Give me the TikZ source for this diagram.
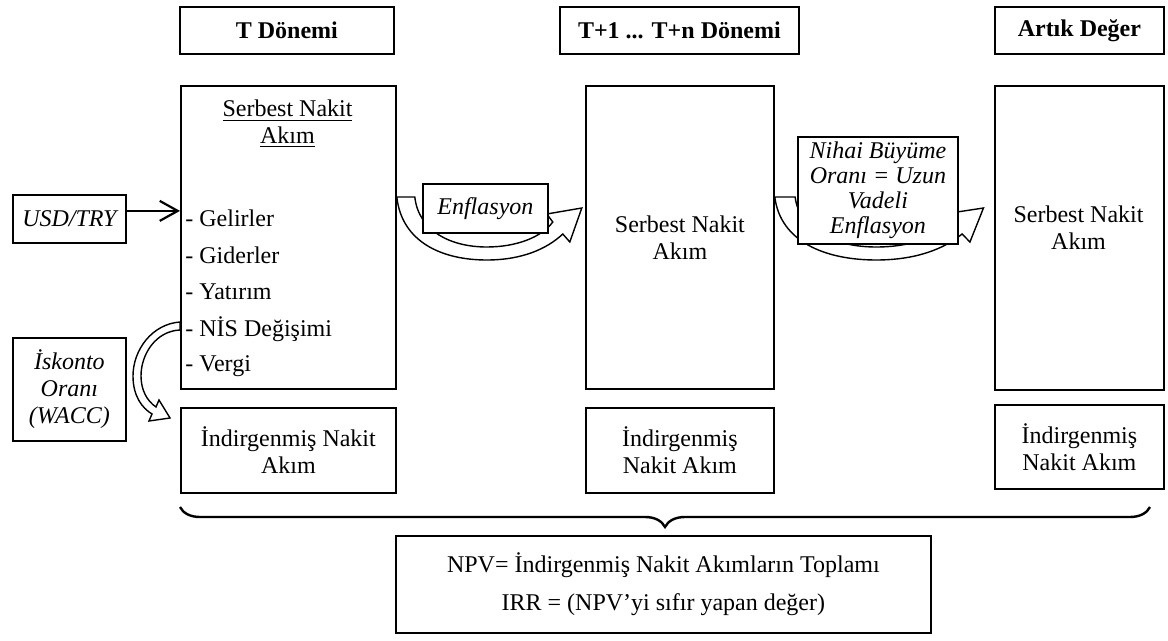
\documentclass[tikz,border=0pt]{standalone}
\usepackage{fontspec}
\setmainfont{Liberation Serif}
\usetikzlibrary{positioning, arrows.meta, decorations.pathreplacing}
\newcommand{\dsize}{\fontsize{12}{13.5}\selectfont}
\tikzset{
  every node/.style={font=\dsize},
  box/.style={draw, line width=0.9pt, fill=white, align=center, inner sep=2pt, anchor=north west},
  colhead/.style={box, font=\dsize\bfseries},
  note/.style={box, font=\dsize\itshape},
  band/.style={draw, fill=white, line width=0.7pt},
  brace/.style={decorate, decoration={brace, mirror, amplitude=10pt}, line width=1.2pt},
  uarrow/.pic={
    \draw[band] (0,0) -- (18,0) .. controls (22,35) and (55,50) .. (90,50)
      .. controls (120,50) and (145,40) .. (156,25) -- (150,17) -- (185,11)
      -- (173,45) -- (166,37) .. controls (150,52) and (125,63) .. (90,63)
      .. controls (45,63) and (5,45) .. (0,0) -- cycle;
  },
}

\begin{document}
\begin{tikzpicture}[x=0.5pt, y=-0.5pt]
  \fill[white] (0,0) rectangle (1168,641);
  \useasboundingbox (0,0) rectangle (1168,641);

  % column headers
  \node[colhead, minimum width=107pt, minimum height=23.5pt] (hT) at (179,6) {T Dönemi};
  \node[colhead, minimum width=119.5pt, minimum height=23.5pt] (hM) at (559,6) {T+1 ... T+n Dönemi};
  \node[colhead, minimum width=84.5pt, minimum height=23.5pt] (hR) at (994,6) {Artık Değer};

  % free cash flow
  \node[box, minimum width=107.5pt, minimum height=151.5pt] (fcfT) at (180,85) {};
  \node[box, minimum width=94pt, minimum height=151.5pt] (fcfM) at (585,85) {Serbest Nakit\\Akım};
  \node[box, minimum width=84.5pt, minimum height=152pt] (fcfR) at (994,85) {};
  \node[align=center, inner sep=0pt] (fcfRt) at (1078.5,228) {Serbest Nakit\\Akım};

  \node[anchor=base, inner sep=0pt] (fcfTt1) at (287.5,117) {\underline{Serbest Nakit}};
  \node[anchor=base, inner sep=0pt] (fcfTt2) at (287.5,144) {\underline{Akım}};
  \foreach \lbl [count=\i] in {Gelirler, Giderler, Yatırım, NİS Değişimi, Vergi}
    \node[anchor=west, inner sep=0pt] (fcfTi\i) at (185, 181+37*\i) {- \lbl};

  % discounted cash flow
  \node[box, minimum width=107.5pt, minimum height=42.5pt] (dcfT) at (180,407) {İndirgenmiş Nakit\\Akım};
  \node[box, minimum width=94pt, minimum height=42.5pt] (dcfM) at (585,407) {İndirgenmiş\\Nakit Akım};
  \node[box, minimum width=84.5pt, minimum height=42pt] (dcfR) at (994,404) {İndirgenmiş\\Nakit Akım};

  % growth arrows
  \pic at (fcfT.east |- 0,197) {uarrow};
  \pic[xscale=1.128] at (fcfM.east |- 0,197) {uarrow};

  % discount arrow
  \draw[band] (180,322) .. controls (152,324) and (133,350) .. (133,376)
    .. controls (133,396) and (142,408) .. (152,414) -- (149,421) -- (170,418)
    -- (159,400) -- (156,407) .. controls (147,401) and (141,390) .. (141,376)
    .. controls (141,354) and (156,331) .. (180,330) -- cycle;

  % inputs
  \node[note, minimum width=56.5pt, minimum height=24pt] (usd) at (12,194) {USD/TRY};
  \node[note, minimum width=56.5pt, minimum height=51.5pt] (disc) at (12,337) {İskonto\\Oranı\\(WACC)};
  \node[note, minimum width=62.5pt, minimum height=24.5pt] (infl) at (422,183) {Enflasyon};
  \node[note, minimum width=80pt, minimum height=53.5pt, font=\fontsize{12}{12.5}\selectfont\itshape] (tgr) at (797,136) {Nihai Büyüme\\Oranı = Uzun\\Vadeli\\Enflasyon};

  \draw[line width=1.1pt, -{Straight Barb[length=9pt, width=10pt]}] ([yshift=4pt]usd.east) -- ([yshift=4pt]usd.east -| fcfT.west);

  % total
  \coordinate (braceL) at (180,507);
  \coordinate (braceR) at (1150,507);
  \draw[brace] (braceL) -- (braceR);

  \node[box, minimum width=267.5pt, minimum height=48.5pt] (npv) at (395,535) {NPV= İndirgenmiş Nakit Akımların Toplamı\\[5.5pt]IRR = (NPV’yi sıfır yapan değer)};
\end{tikzpicture}
\end{document}
